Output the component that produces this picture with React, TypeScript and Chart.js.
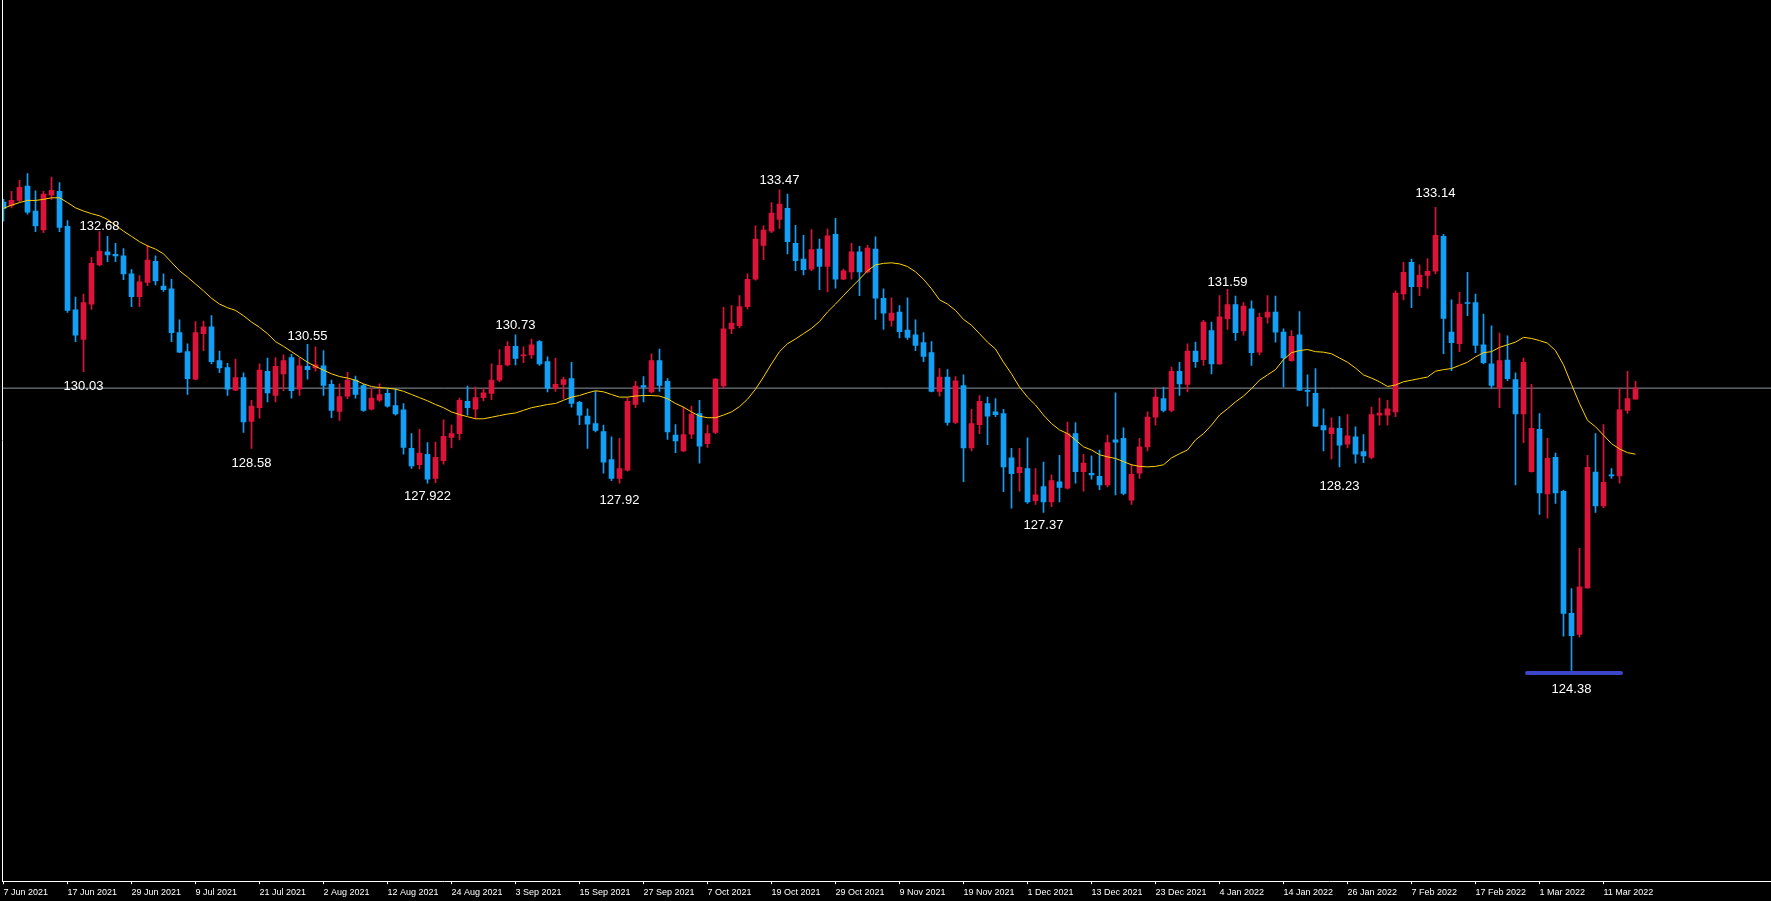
import React, { useEffect, useRef } from 'react';
import { Chart, registerables } from 'chart.js';

Chart.register(...registerables);

// ---- Axis ticks (bar index -> date label) ----
const tickBars = [0, 8, 16, 24, 32, 40, 48, 56, 64, 72, 80, 88, 96, 104, 112, 120, 128, 136, 144, 152, 160, 168, 176, 184, 192, 200];
const tickLabels = [
  '7 Jun 2021', '17 Jun 2021', '29 Jun 2021', '9 Jul 2021', '21 Jul 2021', '2 Aug 2021', '12 Aug 2021',
  '24 Aug 2021', '3 Sep 2021', '15 Sep 2021', '27 Sep 2021', '7 Oct 2021', '19 Oct 2021', '29 Oct 2021',
  '9 Nov 2021', '19 Nov 2021', '1 Dec 2021', '13 Dec 2021', '23 Dec 2021', '4 Jan 2022', '14 Jan 2022',
  '26 Jan 2022', '7 Feb 2022', '17 Feb 2022', '1 Mar 2022', '11 Mar 2022',
];

// ---- OHLC (daily) ----
const opens = [
  133.24, 133.17, 133.27, 133.54, 133.07, 132.71, 133.37, 133.44, 132.78, 131.20,
  130.64, 131.31, 132.05, 132.30, 132.25, 132.22, 131.88, 131.45, 131.72, 132.12,
  131.65, 131.60, 130.77, 130.41, 129.89, 130.75, 130.88, 130.24, 130.11, 129.68,
  129.92, 129.09, 129.35, 130.04, 129.58, 129.99, 130.30, 129.70, 130.13, 130.10,
  130.14, 129.79, 129.28, 129.57, 129.87, 129.77, 129.32, 129.49, 129.62, 129.39,
  129.31, 128.58, 128.27, 128.47, 128.01, 128.35, 128.79, 128.86, 129.47, 129.32,
  129.54, 129.62, 129.87, 130.16, 130.51, 130.33, 130.35, 130.60, 130.22, 129.72,
  129.79, 129.90, 129.45, 129.19, 129.05, 128.90, 128.37, 128.01, 128.17, 129.41,
  129.77, 129.65, 130.24, 129.85, 128.83, 128.53, 128.85, 129.24, 128.67, 128.88,
  129.76, 130.84, 130.90, 131.26, 131.78, 132.42, 132.69, 132.91, 133.12, 132.46,
  132.16, 131.97, 132.35, 132.02, 132.63, 131.78, 131.92, 132.30, 131.92, 132.35,
  131.42, 131.00, 131.16, 130.82, 130.73, 130.58, 130.39, 129.66, 129.93, 129.07,
  129.77, 128.59, 129.03, 129.43, 129.27, 129.24, 128.40, 128.12, 128.20, 127.59,
  127.86, 127.57, 127.95, 127.83, 128.86, 128.14, 128.11, 128.05, 127.89, 128.74,
  128.77, 127.60, 128.11, 128.61, 129.17, 129.52, 129.30, 130.04, 129.79, 130.42,
  130.26, 130.81, 130.18, 131.03, 131.30, 130.80, 131.22, 130.40, 131.06, 131.16,
  130.78, 130.24, 130.73, 129.68, 129.62, 129.01, 128.86, 128.96, 128.66, 128.80,
  128.52, 128.41, 129.21, 129.21, 129.27, 131.50, 132.10, 131.64, 131.85, 131.93,
  132.59, 130.78, 130.56, 131.34, 131.34, 130.54, 130.18, 129.72, 130.25, 129.88,
  129.23, 128.14, 128.94, 127.72, 128.41, 127.77, 125.46, 125.06, 125.94, 128.13,
  127.49, 128.08, 128.06, 129.30, 129.51,
];
const highs = [
  133.29, 133.44, 133.65, 133.78, 133.45, 133.44, 133.71, 133.61, 132.89, 131.44,
  131.50, 132.19, 132.68, 132.59, 132.46, 132.36, 131.96, 131.85, 132.42, 132.22,
  131.88, 131.78, 131.01, 130.56, 130.98, 130.99, 131.09, 130.42, 130.19, 130.27,
  130.01, 129.49, 130.18, 130.29, 130.30, 130.35, 130.36, 130.29, 130.55, 130.50,
  130.43, 129.87, 129.80, 130.02, 129.95, 129.79, 129.71, 129.80, 129.70, 129.70,
  129.43, 128.86, 128.94, 128.69, 128.70, 129.12, 129.02, 129.53, 129.76, 129.74,
  129.71, 130.18, 130.45, 130.60, 130.73, 130.50, 130.65, 130.62, 130.31, 130.29,
  129.93, 130.21, 129.47, 129.33, 129.66, 129.02, 128.80, 128.77, 129.53, 129.85,
  129.94, 130.37, 130.46, 129.90, 129.03, 129.36, 129.38, 129.49, 129.02, 129.90,
  131.25, 131.28, 131.47, 131.88, 132.79, 132.79, 133.23, 133.47, 133.39, 132.80,
  132.61, 132.72, 132.54, 132.73, 132.93, 131.97, 132.46, 132.40, 132.42, 132.58,
  131.60, 131.43, 131.28, 131.43, 131.01, 130.77, 130.60, 130.09, 130.07, 129.94,
  129.97, 129.32, 129.58, 129.55, 129.52, 129.32, 128.58, 128.58, 128.78, 128.20,
  128.32, 128.08, 128.45, 129.08, 129.07, 128.47, 128.44, 128.55, 128.83, 129.63,
  128.97, 128.28, 128.77, 129.27, 129.72, 129.74, 130.12, 130.21, 130.56, 130.59,
  131.00, 130.97, 131.47, 131.59, 131.46, 131.34, 131.37, 131.14, 131.47, 131.46,
  130.84, 130.81, 131.17, 129.97, 130.09, 129.33, 129.16, 129.18, 129.22, 128.99,
  128.84, 129.36, 129.53, 129.49, 131.56, 132.10, 132.16, 132.05, 132.17, 133.14,
  132.63, 131.39, 131.53, 131.91, 131.50, 131.12, 130.90, 130.76, 130.71, 130.01,
  130.29, 129.79, 129.24, 128.77, 128.49, 127.79, 125.93, 126.69, 128.45, 128.86,
  129.03, 128.20, 129.72, 130.04, 129.85,
];
const lows = [
  132.88, 133.13, 133.24, 133.01, 132.68, 132.66, 133.29, 132.68, 131.15, 130.60,
  130.03, 131.21, 132.03, 132.11, 132.11, 131.77, 131.26, 131.26, 131.66, 131.67,
  131.55, 130.60, 130.39, 129.60, 129.88, 130.43, 130.18, 130.01, 129.58, 129.67,
  128.88, 128.58, 129.15, 129.46, 129.46, 129.67, 129.53, 129.58, 129.89, 130.04,
  129.58, 129.16, 129.11, 129.52, 129.53, 129.28, 129.31, 129.47, 129.36, 129.21,
  128.47, 128.20, 128.19, 127.92, 127.93, 128.28, 128.59, 128.74, 129.21, 129.14,
  129.48, 129.50, 129.84, 130.14, 130.16, 130.20, 130.28, 130.15, 129.65, 129.66,
  129.52, 129.36, 129.03, 128.58, 128.89, 128.11, 127.97, 127.92, 128.15, 129.35,
  129.46, 129.63, 129.66, 128.75, 128.50, 128.52, 128.77, 128.30, 128.60, 128.86,
  129.72, 130.75, 130.86, 131.22, 131.76, 132.15, 132.66, 132.74, 132.26, 131.94,
  131.86, 131.94, 131.58, 131.54, 131.61, 131.77, 131.78, 131.47, 131.90, 131.02,
  130.83, 130.89, 130.67, 130.64, 130.43, 130.22, 129.65, 129.57, 129.02, 129.05,
  127.95, 128.53, 128.86, 128.65, 129.18, 127.76, 127.45, 127.77, 127.54, 127.52,
  127.37, 127.48, 127.57, 127.81, 127.92, 127.77, 128.00, 127.80, 127.85, 127.70,
  127.70, 127.52, 128.01, 128.53, 129.02, 129.27, 129.27, 129.58, 129.65, 130.11,
  130.15, 129.99, 130.17, 130.83, 130.62, 130.72, 130.15, 130.35, 130.95, 130.59,
  129.74, 130.23, 129.67, 129.38, 128.99, 128.53, 128.38, 128.23, 128.59, 128.30,
  128.31, 128.38, 129.02, 129.02, 129.18, 131.39, 131.24, 131.47, 131.61, 131.88,
  130.37, 130.05, 130.41, 131.09, 130.39, 130.18, 129.72, 129.35, 129.86, 127.89,
  128.69, 128.13, 127.33, 127.26, 127.54, 125.03, 124.38, 125.01, 125.93, 127.37,
  127.46, 128.01, 127.92, 129.24, 129.51,
];
const closes = [
  133.12, 133.27, 133.52, 133.05, 132.79, 133.39, 133.46, 132.76, 131.19, 130.72,
  131.34, 132.08, 132.31, 132.24, 132.22, 131.88, 131.45, 131.73, 132.14, 131.75,
  131.58, 130.77, 130.40, 129.90, 130.77, 130.88, 130.22, 130.10, 129.70, 129.92,
  129.08, 129.38, 130.06, 129.63, 130.13, 130.24, 129.67, 130.14, 130.07, 130.16,
  129.77, 129.30, 129.56, 129.87, 129.60, 129.30, 129.53, 129.60, 129.38, 129.23,
  128.60, 128.25, 128.49, 128.00, 128.41, 128.81, 128.86, 129.49, 129.35, 129.54,
  129.63, 129.87, 130.15, 130.51, 130.28, 130.35, 130.54, 130.18, 129.72, 129.79,
  129.88, 129.43, 129.21, 129.04, 128.92, 128.32, 128.01, 128.20, 129.47, 129.76,
  129.74, 130.24, 129.77, 128.89, 128.72, 128.84, 129.23, 128.62, 128.86, 129.89,
  130.84, 130.95, 131.26, 131.78, 132.54, 132.71, 133.03, 133.20, 132.49, 132.13,
  131.96, 132.34, 132.02, 132.60, 131.78, 131.94, 132.30, 131.92, 132.37, 131.42,
  131.14, 131.14, 130.79, 130.68, 130.53, 130.32, 129.66, 129.93, 129.07, 129.86,
  128.59, 129.05, 129.47, 129.19, 129.22, 128.23, 128.10, 128.22, 127.57, 127.70,
  127.57, 127.97, 127.84, 128.86, 128.14, 128.30, 128.08, 127.89, 128.69, 128.70,
  127.73, 128.09, 128.61, 129.17, 129.55, 129.30, 130.04, 129.80, 130.42, 130.22,
  130.97, 130.18, 131.07, 131.30, 130.77, 131.27, 130.39, 131.06, 131.16, 130.78,
  130.29, 130.70, 129.68, 129.66, 129.00, 128.93, 128.97, 128.64, 128.82, 128.47,
  128.44, 129.22, 129.25, 129.33, 131.52, 131.91, 131.64, 131.86, 131.93, 132.61,
  131.04, 130.58, 131.31, 131.32, 130.53, 130.20, 129.77, 130.24, 129.90, 129.23,
  130.21, 128.96, 127.74, 128.39, 127.74, 125.46, 125.04, 125.96, 128.22, 127.49,
  127.94, 128.06, 129.31, 129.52, 129.72,
];

// ---- Moving average (yellow) ----
const maValues = [
  133.12, 133.18, 133.23, 133.27, 133.27, 133.29, 133.32, 133.32, 133.23, 133.13,
  133.07, 133.02, 132.98, 132.91, 132.80, 132.69, 132.59, 132.49, 132.41, 132.35,
  132.26, 132.10, 131.94, 131.82, 131.69, 131.56, 131.42, 131.31, 131.24, 131.19,
  131.09, 130.97, 130.87, 130.75, 130.60, 130.51, 130.41, 130.31, 130.21, 130.13,
  130.06, 129.99, 129.94, 129.91, 129.87, 129.80, 129.75, 129.73, 129.72, 129.70,
  129.66, 129.60, 129.54, 129.48, 129.41, 129.35, 129.27, 129.22, 129.18, 129.14,
  129.14, 129.17, 129.20, 129.23, 129.25, 129.30, 129.35, 129.38, 129.41, 129.43,
  129.49, 129.55, 129.58, 129.63, 129.67, 129.65, 129.60, 129.55, 129.55, 129.57,
  129.58, 129.58, 129.57, 129.52, 129.43, 129.36, 129.27, 129.19, 129.16, 129.16,
  129.21, 129.27, 129.37, 129.51, 129.70, 129.93, 130.18, 130.41, 130.56, 130.65,
  130.75, 130.85, 130.98, 131.16, 131.31, 131.47, 131.63, 131.78, 131.94, 132.05,
  132.08, 132.09, 132.07, 132.02, 131.92, 131.78, 131.60, 131.39, 131.31, 131.19,
  131.02, 130.91, 130.75, 130.59, 130.46, 130.21, 129.99, 129.74, 129.55, 129.40,
  129.21, 129.05, 128.93, 128.86, 128.74, 128.61, 128.55, 128.46, 128.42, 128.39,
  128.33, 128.27, 128.24, 128.23, 128.24, 128.27, 128.40, 128.48, 128.55, 128.74,
  128.86, 129.02, 129.21, 129.33, 129.46, 129.57, 129.71, 129.87, 129.97, 130.07,
  130.26, 130.39, 130.43, 130.45, 130.41, 130.40, 130.37, 130.29, 130.21, 130.10,
  129.97, 129.91, 129.84, 129.75, 129.78, 129.84, 129.87, 129.90, 129.93, 130.04,
  130.07, 130.09, 130.15, 130.21, 130.31, 130.39, 130.41, 130.49, 130.54, 130.59,
  130.68, 130.66, 130.62, 130.57, 130.43, 130.16, 129.79, 129.43, 129.11, 128.99,
  128.83, 128.67, 128.57, 128.50, 128.47,
];

// ---- Current price line ----
const bidPrice = 129.72;

// ---- Text annotations ----
const annotationBars = [12, 10, 38, 31, 64, 53, 77, 97, 130, 153, 167, 179, 196];
const annotationTexts = ['132.68', '130.03', '130.55', '128.58', '130.73', '127.922', '127.92', '133.47', '127.37', '131.59', '128.23', '133.14', '124.38'];
const annotationLevels = [132.77, 129.75, 130.70, 128.30, 130.91, 127.67, 127.60, 133.64, 127.12, 131.72, 127.86, 133.41, 124.03];

// ---- Blue horizontal marker under the low ----
const markerLevel = 124.33;
const markerStartBar = 190.44;
const markerEndBar = 202.19;

// ---- Axis ranges ----
const xMin = -0.1875;
const xMax = 220.9375;
const yMin = 120.394;
const yMax = 137.061;

const UP = '#DC143C';
const DOWN = '#12A0F6';

export default function App() {
  const ref = useRef<HTMLCanvasElement | null>(null);

  useEffect(() => {
    document.body.style.margin = '0';
    document.body.style.background = '#000';
    const canvas = ref.current;
    if (!canvas) return;

    const colors = opens.map((o, i) => (closes[i] >= o ? UP : DOWN));
    const wickData = opens.map((_, i) => ({ x: i, y: [lows[i], highs[i]] }));
    const bodyData = opens.map((o, i) => ({ x: i, y: [o, closes[i]] }));
    const maData = maValues.map((v, i) => ({ x: i, y: v }));

    const decor = {
      id: 'decor',
      afterDatasetsDraw(chart: any) {
        const { ctx, scales } = chart;
        const xs = scales.x;
        const ys = scales.y;
        ctx.save();
        ctx.font = '13px "Liberation Sans", Arial, sans-serif';
        ctx.fillStyle = '#FFFFFF';
        ctx.textAlign = 'center';
        ctx.textBaseline = 'middle';
        annotationBars.forEach((b, k) => {
          ctx.fillText(annotationTexts[k], xs.getPixelForValue(b), ys.getPixelForValue(annotationLevels[k]));
        });
        ctx.restore();
      },
      afterDraw(chart: any) {
        const { ctx, chartArea } = chart;
        ctx.save();
        ctx.strokeStyle = '#FFFFFF';
        ctx.lineWidth = 1;
        ctx.beginPath();
        ctx.moveTo(chartArea.left + 0.5, 0);
        ctx.lineTo(chartArea.left + 0.5, chartArea.bottom);
        ctx.stroke();
        ctx.restore();
      },
    };

    const chart = new Chart(canvas, {
      type: 'bar',
      data: {
        datasets: [
          {
            type: 'line',
            data: maData as any,
            borderColor: '#FFD200',
            borderWidth: 1,
            pointRadius: 0,
            tension: 0,
            order: 0,
          } as any,
          {
            type: 'line',
            data: [
              { x: markerStartBar, y: markerLevel },
              { x: markerEndBar, y: markerLevel },
            ] as any,
            borderColor: '#3C46C8',
            borderWidth: 4,
            borderCapStyle: 'round',
            pointRadius: 0,
            order: 0,
          } as any,
          {
            type: 'bar',
            data: bodyData as any,
            backgroundColor: colors,
            borderWidth: 0,
            barThickness: 5,
            minBarLength: 1,
            grouped: false,
            order: 1,
          } as any,
          {
            type: 'bar',
            data: wickData as any,
            backgroundColor: colors,
            borderWidth: 0,
            barThickness: 1,
            grouped: false,
            order: 2,
          } as any,
          {
            type: 'line',
            data: [
              { x: xMin, y: bidPrice },
              { x: xMax, y: bidPrice },
            ] as any,
            borderColor: '#8C96A0',
            borderWidth: 1,
            pointRadius: 0,
            order: 3,
          } as any,
        ],
      },
      options: {
        responsive: false,
        animation: false,
        devicePixelRatio: 1,
        events: [],
        layout: { padding: { left: 2, right: 0, top: 0, bottom: 0 } },
        plugins: {
          legend: { display: false },
          tooltip: { enabled: false },
        },
        scales: {
          x: {
            type: 'linear',
            min: xMin,
            max: xMax,
            offset: false,
            grid: {
              display: true,
              drawOnChartArea: false,
              drawTicks: true,
              tickLength: 3,
              color: '#FFFFFF',
              offset: false,
            },
            border: { display: true, color: '#FFFFFF', width: 1 },
            afterBuildTicks: (scale: any) => {
              scale.ticks = tickBars.map((v) => ({ value: v }));
            },
            ticks: {
              autoSkip: false,
              maxRotation: 0,
              minRotation: 0,
              align: 'start',
              padding: 3,
              color: '#FFFFFF',
              font: { family: '"Liberation Sans", Arial, sans-serif', size: 9 },
              callback: (value: any) => {
                const k = tickBars.indexOf(Number(value));
                return k >= 0 ? tickLabels[k] : '';
              },
            },
          },
          y: {
            type: 'linear',
            display: false,
            min: yMin,
            max: yMax,
          },
        },
      } as any,
      plugins: [decor],
    });

    return () => chart.destroy();
  }, []);

  return (
    <div style={{ width: 1771, height: 901, background: '#000' }}>
      <canvas ref={ref} width={1771} height={901} style={{ display: 'block' }} />
    </div>
  );
}
